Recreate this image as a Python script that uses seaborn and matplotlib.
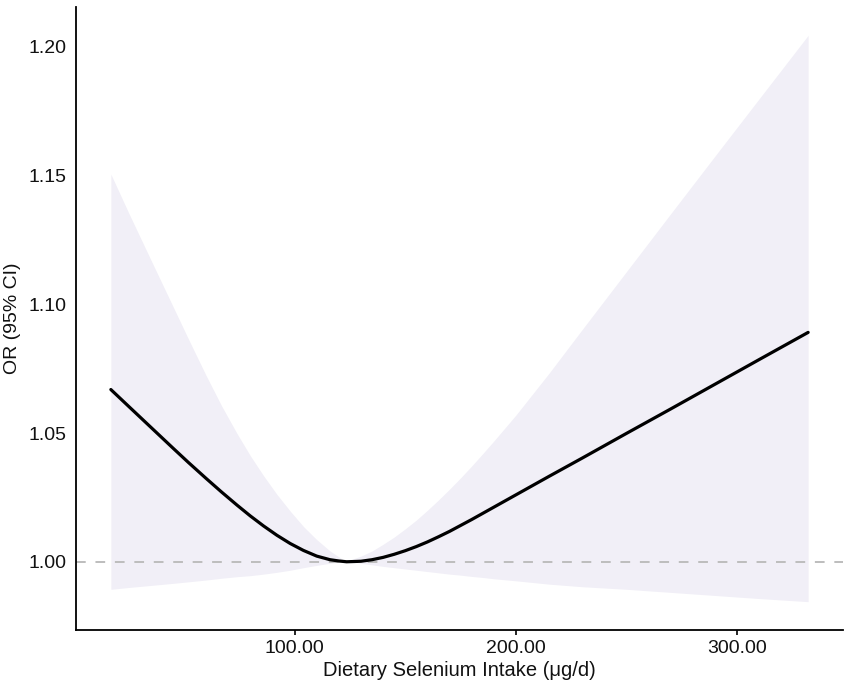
import matplotlib
matplotlib.use("Agg")
import matplotlib.pyplot as plt
import seaborn as sns
import pandas as pd

# Restricted cubic spline: OR and 95% CI
selenium = [17, 25, 35, 45, 52, 60, 67, 74, 80, 86,
            92, 98, 104, 110, 116, 120, 123.5, 127, 130, 135,
            140, 145, 150, 155, 160, 165, 170, 175, 180, 185,
            190, 200, 215, 230, 250, 270, 290, 310, 332]
odds_ratio = [1.0669, 1.0604, 1.0523, 1.0442, 1.0386, 1.0324, 1.0271, 1.0220, 1.0178, 1.0139,
              1.0103, 1.0071, 1.0044, 1.0022, 1.0008, 1.0003, 1.0000, 1.0001, 1.0002, 1.0008,
              1.0017, 1.0029, 1.0043, 1.0059, 1.0077, 1.0097, 1.0118, 1.0141, 1.0164, 1.0188,
              1.0212, 1.0260, 1.0332, 1.0403, 1.0499, 1.0594, 1.0690, 1.0786, 1.0891]
ci_lower = [0.9893, 0.9900, 0.9908, 0.9916, 0.9922, 0.9929, 0.9936, 0.9942, 0.9946, 0.9952,
            0.9959, 0.9967, 0.9977, 0.9986, 0.9994, 0.9998, 1.0000, 0.9998, 0.9994, 0.9988,
            0.9982, 0.9977, 0.9972, 0.9967, 0.9962, 0.9957, 0.9952, 0.9948, 0.9943, 0.9939,
            0.9934, 0.9926, 0.9913, 0.9903, 0.9893, 0.9881, 0.9869, 0.9857, 0.9845]
ci_upper = [1.1506, 1.1356, 1.1174, 1.0993, 1.0866, 1.0724, 1.0606, 1.0498, 1.0412, 1.0334,
            1.0262, 1.0197, 1.0137, 1.0086, 1.0042, 1.0019, 1.0000, 1.0013, 1.0022, 1.0042,
            1.0068, 1.0096, 1.0128, 1.0162, 1.0200, 1.0240, 1.0282, 1.0326, 1.0372, 1.0420,
            1.0469, 1.0570, 1.0733, 1.0903, 1.1128, 1.1353, 1.1577, 1.1800, 1.2045]

x_ticks = [100, 200, 300]
y_ticks = [1.00, 1.05, 1.10, 1.15, 1.20]

df = pd.DataFrame({"selenium": selenium, "or": odds_ratio,
                   "lower": ci_lower, "upper": ci_upper})

sns.set_theme(style="white")
plt.rcParams["font.family"] = ["Liberation Sans", "DejaVu Sans"]

fig = plt.figure(figsize=(8.51, 6.87), dpi=100)
ax = fig.add_axes([0.0893, 0.0830, 0.9013, 0.9068])

ax.fill_between(df["selenium"], df["lower"], df["upper"],
                color="#F1EFF7", linewidth=0, zorder=1)
ax.axhline(1.0, color="#BDBDBD", linewidth=1.4, linestyle=(0, (5, 5)), zorder=2)
sns.lineplot(data=df, x="selenium", y="or", color="black", linewidth=2.3,
             ax=ax, zorder=3)

ax.margins(x=0.05, y=0.05)
ax.set_xticks(x_ticks)
ax.set_xticklabels([f"{t:.2f}" for t in x_ticks])
ax.set_yticks(y_ticks)
ax.set_yticklabels([f"{t:.2f}" for t in y_ticks])

ax.tick_params(axis="x", length=3.5, width=1.2, color="black", pad=3.5,
               labelsize=14, labelcolor="#111111", bottom=True)
ax.tick_params(axis="y", length=0, pad=6.5, labelsize=14, labelcolor="#111111")

ax.set_xlabel("Dietary Selenium Intake (μg/d)", fontsize=14.5, color="#111111", labelpad=3)
ax.set_ylabel("OR (95% CI)", fontsize=14, color="#111111", labelpad=6)

sns.despine(ax=ax)
for side in ["left", "bottom"]:
    ax.spines[side].set_color("black")
    ax.spines[side].set_linewidth(1.3)

fig.savefig("out.png", dpi=100)
plt.close(fig)
